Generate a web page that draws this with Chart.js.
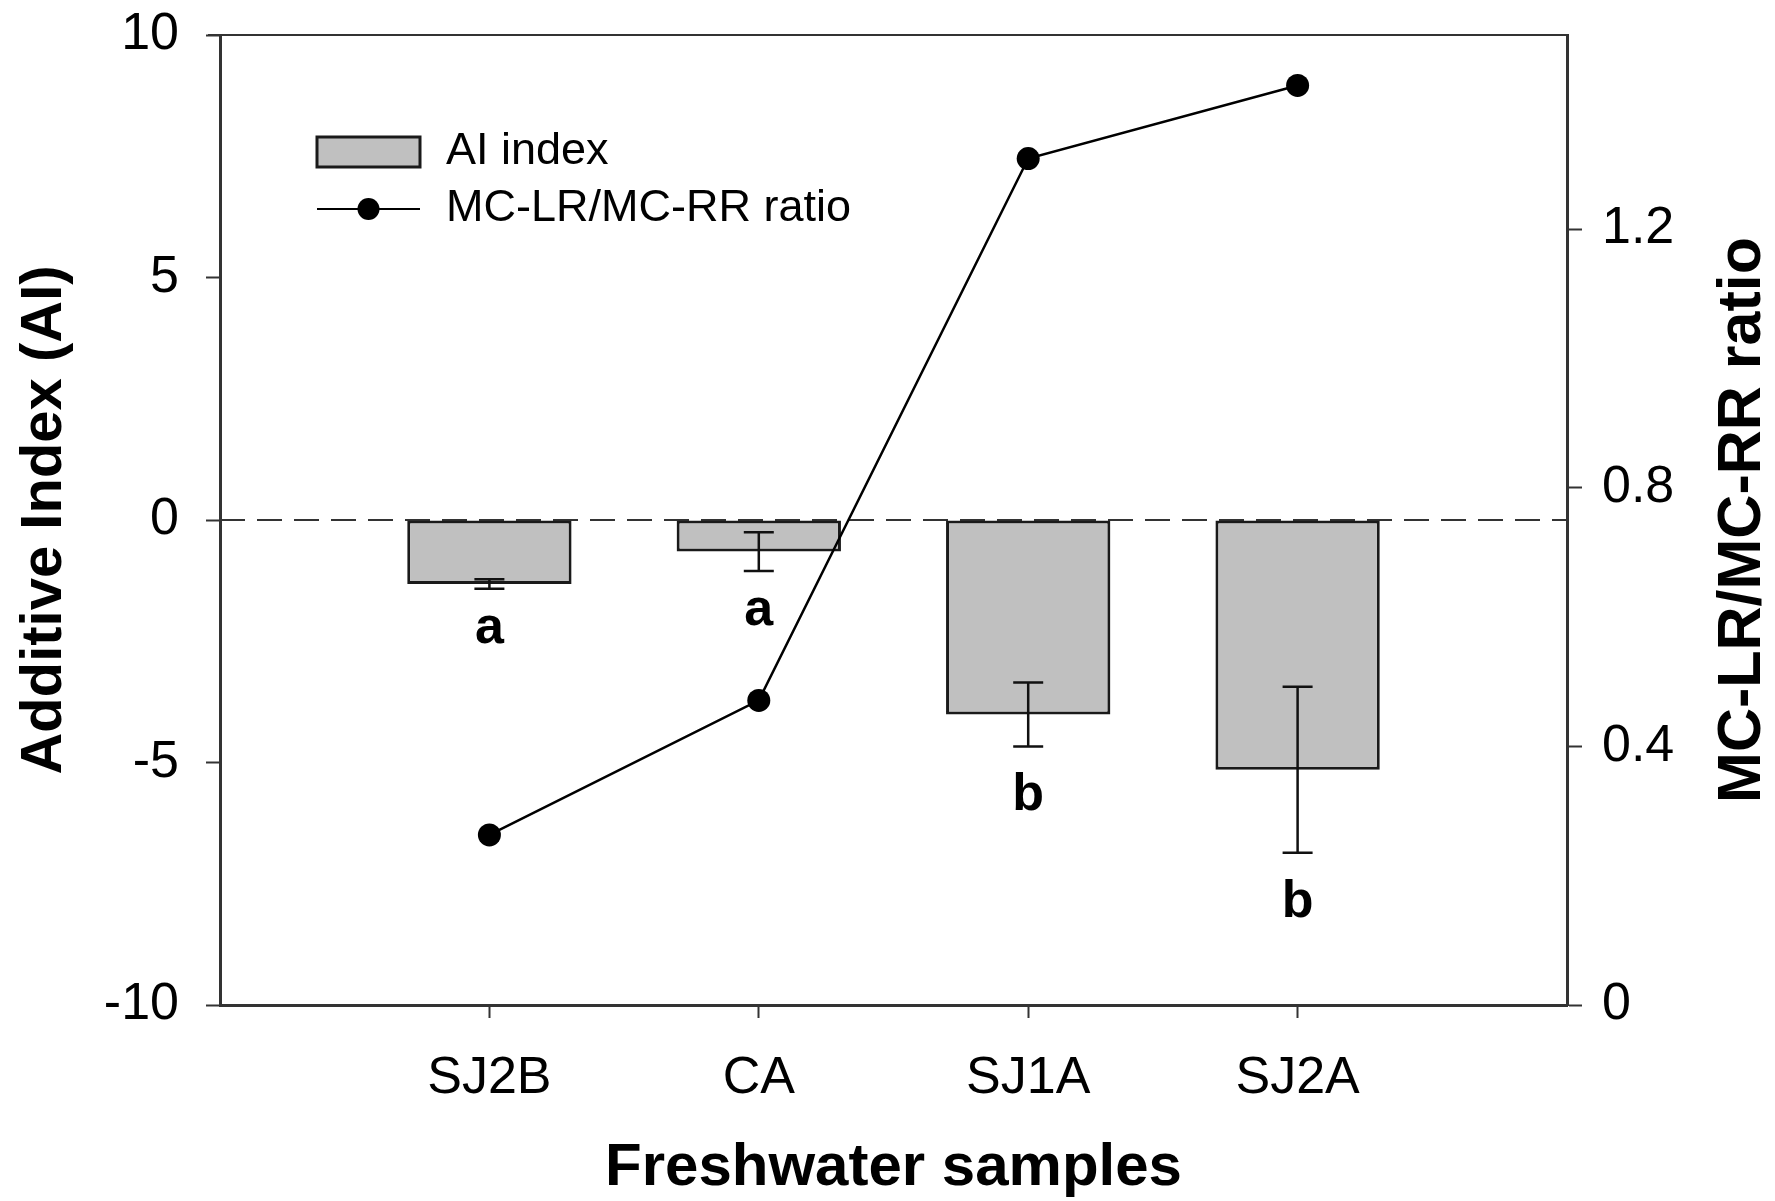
<!DOCTYPE html>
<html><head><meta charset="utf-8">
<script src="https://cdn.jsdelivr.net/npm/chart.js@4.4.1/dist/chart.umd.min.js"></script>
<style>html,body{margin:0;padding:0;background:#fff;overflow:hidden;}</style>
</head><body>
<canvas id="c" width="1775" height="1201"></canvas>
<script>
// ---- data ----
const categories = ['SJ2B', 'CA', 'SJ1A', 'SJ2A'];
const aiIndex = [-1.32, -0.65, -4.01, -5.15];
const aiError = [0.10, 0.40, 0.66, 1.71];
const aiLetters = ['a', 'a', 'b', 'b'];
const mcRatio = [0.263, 0.471, 1.309, 1.422];
const leftTicks = [-10, -5, 0, 5, 10];
const rightTicks = [0, 0.4, 0.8, 1.2];
const seriesNames = ['AI index', 'MC-LR/MC-RR ratio'];
const xTitle = 'Freshwater samples';
const yTitle = 'Additive Index (AI)';
const y1Title = 'MC-LR/MC-RR ratio';

const FONT = "'Liberation Sans', Arial, Helvetica, sans-serif";
Chart.defaults.font.family = FONT;
Chart.defaults.color = '#000';

const labels = ['', ...categories, ''];
const pad = arr => [null, ...arr, null];

const AXIS = '#333';

const decorPlugin = {
  id: 'decor',
  beforeDatasetsDraw(chart) {
    const {ctx, chartArea, scales} = chart;
    const y0 = scales.y.getPixelForValue(0);
    ctx.save();
    ctx.strokeStyle = AXIS;
    ctx.lineWidth = 2;
    ctx.setLineDash([25, 12]);
    ctx.beginPath();
    ctx.moveTo(chartArea.left, y0);
    ctx.lineTo(chartArea.right, y0);
    ctx.stroke();
    ctx.restore();
  },
  afterDatasetsDraw(chart) {
    const {ctx, scales} = chart;
    ctx.save();
    ctx.strokeStyle = '#111';
    ctx.lineWidth = 2.5;
    ctx.font = 'bold 52px ' + FONT;
    ctx.textAlign = 'center';
    ctx.textBaseline = 'alphabetic';
    categories.forEach((c, i) => {
      const x = scales.x.getPixelForValue(i + 1);
      const yT = scales.y.getPixelForValue(aiIndex[i] + aiError[i]);
      const yB = scales.y.getPixelForValue(aiIndex[i] - aiError[i]);
      ctx.beginPath();
      ctx.moveTo(x, yT); ctx.lineTo(x, yB);
      ctx.moveTo(x - 15, yT); ctx.lineTo(x + 15, yT);
      ctx.moveTo(x - 15, yB); ctx.lineTo(x + 15, yB);
      ctx.stroke();
      ctx.fillStyle = '#000';
      const m = ctx.measureText(aiLetters[i]);
      ctx.fillText(aiLetters[i], x, yB + 26 + m.actualBoundingBoxAscent);
    });
    ctx.restore();
  },
  afterDraw(chart) {
    const {ctx, chartArea} = chart;
    ctx.save();
    // top frame line
    ctx.strokeStyle = AXIS;
    ctx.lineWidth = 2;
    ctx.beginPath();
    ctx.moveTo(chartArea.left - 12, chartArea.top);
    ctx.lineTo(chartArea.right + 1.5, chartArea.top);
    ctx.stroke();

    // right axis title (reads bottom to top)
    ctx.fillStyle = '#000';
    ctx.font = 'bold 61px ' + FONT;
    ctx.textAlign = 'center';
    ctx.textBaseline = 'middle';
    ctx.translate(1743, (chartArea.top + chartArea.bottom) / 2);
    ctx.rotate(-Math.PI / 2);
    ctx.fillText(y1Title, 0, 0);
    ctx.restore();

    // legend
    const barDs = chart.data.datasets[1];
    const lineDs = chart.data.datasets[0];
    const lx = chartArea.left + 97;
    const ly = chartArea.top + 102;
    ctx.save();
    ctx.fillStyle = barDs.backgroundColor;
    ctx.fillRect(lx, ly, 103, 30);
    ctx.strokeStyle = barDs.borderColor;
    ctx.lineWidth = 3;
    ctx.strokeRect(lx, ly, 103, 30);
    const lineY = ly + 72;
    ctx.strokeStyle = lineDs.borderColor;
    ctx.lineWidth = 2;
    ctx.beginPath();
    ctx.moveTo(lx, lineY); ctx.lineTo(lx + 103, lineY);
    ctx.stroke();
    ctx.fillStyle = lineDs.pointBackgroundColor;
    ctx.beginPath();
    ctx.arc(lx + 51.5, lineY, 11, 0, Math.PI * 2);
    ctx.fill();
    ctx.fillStyle = '#000';
    ctx.font = '45px ' + FONT;
    ctx.textAlign = 'left';
    ctx.textBaseline = 'middle';
    ctx.fillText(barDs.label, lx + 129, ly + 15);
    ctx.fillText(lineDs.label, lx + 129, lineY);
    ctx.restore();
  }
};

new Chart(document.getElementById('c'), {
  type: 'bar',
  data: {
    labels: labels,
    datasets: [
      {
        type: 'line',
        label: seriesNames[1],
        data: pad(mcRatio),
        yAxisID: 'y1',
        borderColor: '#000',
        borderWidth: 2.5,
        pointRadius: 11.5,
        pointBackgroundColor: '#000',
        pointBorderColor: '#000',
        pointBorderWidth: 0,
        tension: 0,
        order: 0
      },
      {
        type: 'bar',
        label: seriesNames[0],
        data: pad(aiIndex),
        yAxisID: 'y',
        backgroundColor: '#c0c0c0',
        borderColor: '#1a1a1a',
        borderWidth: 3,
        borderSkipped: false,
        barPercentage: 0.61,
        categoryPercentage: 1,
        order: 1
      }
    ]
  },
  options: {
    responsive: false,
    animation: false,
    devicePixelRatio: 1,
    layout: {padding: {top: 35, left: 0, right: 0, bottom: 0}},
    plugins: {legend: {display: false}, tooltip: {enabled: false}},
    scales: {
      x: {
        offset: false,
        grid: {
          display: true, offset: false, drawOnChartArea: false, tickLength: 13, tickWidth: 2,
          tickColor: c => (c.index === 0 || c.index === labels.length - 1) ? 'rgba(0,0,0,0)' : AXIS
        },
        border: {display: true, color: AXIS, width: 3},
        ticks: {font: {size: 52}, padding: 29, color: '#000', autoSkip: false, maxRotation: 0},
        title: {display: true, text: xTitle, font: {size: 60, weight: 'bold', lineHeight: 1.1}, padding: {top: 0, bottom: 0}, color: '#000'},
        afterFit: s => { s.height = 196; s.paddingLeft = 0; s.paddingRight = 0; }
      },
      y: {
        position: 'left',
        min: -10, max: 10,
        afterBuildTicks: s => { s.ticks = leftTicks.map(v => ({value: v})); },
        grid: {display: true, drawOnChartArea: false, tickLength: 14, tickWidth: 2, tickColor: AXIS},
        border: {display: true, color: AXIS, width: 3},
        ticks: {font: {size: 52}, padding: 27, color: '#000', callback: v => String(v)},
        title: {display: true, text: yTitle, font: {size: 58, weight: 'bold', lineHeight: 1.2}, padding: {top: 10, bottom: 0}, color: '#000'},
        afterFit: s => { s.width = 220; s.paddingTop = 0; s.paddingBottom = 0; }
      },
      y1: {
        position: 'right',
        min: 0, max: 1.5,
        afterBuildTicks: s => { s.ticks = rightTicks.map(v => ({value: v})); },
        grid: {display: true, drawOnChartArea: false, tickLength: 15, tickWidth: 2, tickColor: AXIS},
        border: {display: true, color: AXIS, width: 3},
        ticks: {font: {size: 52}, padding: 20, color: '#000', callback: v => v === 0 ? '0' : v.toFixed(1)},
        title: {display: false},
        afterFit: s => { s.width = 208; s.paddingTop = 0; s.paddingBottom = 0; }
      }
    }
  },
  plugins: [decorPlugin]
});
</script>
</body></html>
